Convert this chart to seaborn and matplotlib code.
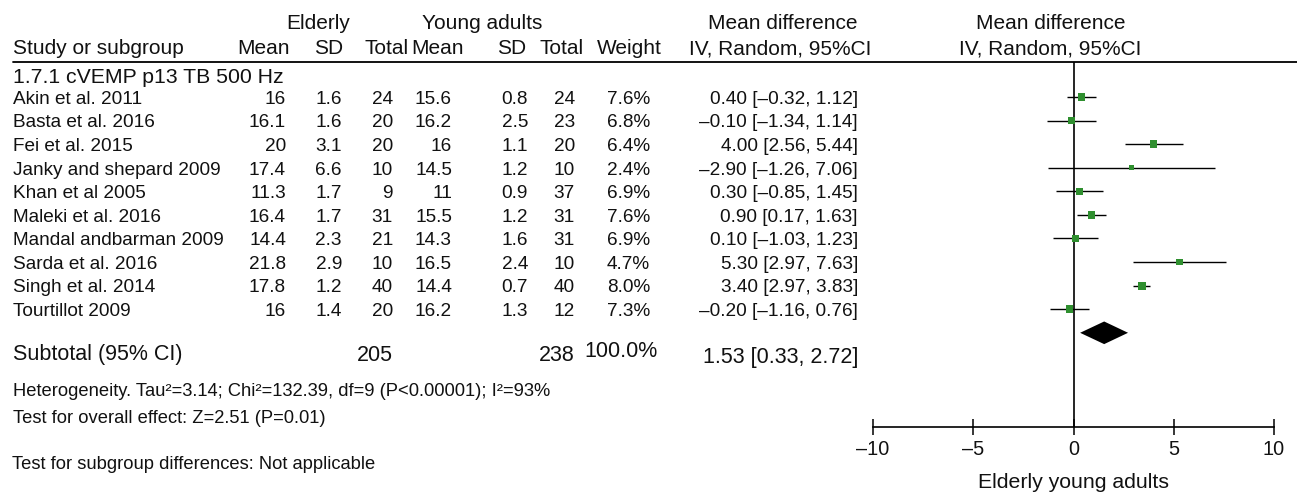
import numpy as np
import pandas as pd
import matplotlib
matplotlib.use("Agg")
import matplotlib.pyplot as plt
import matplotlib.transforms as mtransforms
from matplotlib.lines import Line2D
import seaborn as sns

# ---------------- data ----------------
studies = ["Akin et al. 2011", "Basta et al. 2016", "Fei et al. 2015",
           "Janky and shepard 2009", "Khan et al 2005", "Maleki et al. 2016",
           "Mandal andbarman 2009", "Sarda et al. 2016", "Singh et al. 2014",
           "Tourtillot 2009"]
eld_mean = [16, 16.1, 20, 17.4, 11.3, 16.4, 14.4, 21.8, 17.8, 16]
eld_sd = [1.6, 1.6, 3.1, 6.6, 1.7, 1.7, 2.3, 2.9, 1.2, 1.4]
eld_n = [24, 20, 20, 10, 9, 31, 21, 10, 40, 20]
yng_mean = [15.6, 16.2, 16, 14.5, 11, 15.5, 14.3, 16.5, 14.4, 16.2]
yng_sd = [0.8, 2.5, 1.1, 1.2, 0.9, 1.2, 1.6, 2.4, 0.7, 1.3]
yng_n = [24, 23, 20, 10, 37, 31, 31, 10, 40, 12]
weight = [7.6, 6.8, 6.4, 2.4, 6.9, 7.6, 6.9, 4.7, 8.0, 7.3]
md = [0.40, -0.10, 4.00, 2.90, 0.30, 0.90, 0.10, 5.30, 3.40, -0.20]
ci_lo = [-0.32, -1.34, 2.56, -1.26, -0.85, 0.17, -1.03, 2.97, 2.97, -1.16]
ci_hi = [1.12, 1.14, 5.44, 7.06, 1.45, 1.63, 1.23, 7.63, 3.83, 0.76]
md_labels = ["0.40 [\u20130.32, 1.12]", "\u20130.10 [\u20131.34, 1.14]",
             "4.00 [2.56, 5.44]", "\u20132.90 [\u20131.26, 7.06]",
             "0.30 [\u20130.85, 1.45]", "0.90 [0.17, 1.63]",
             "0.10 [\u20131.03, 1.23]", "5.30 [2.97, 7.63]",
             "3.40 [2.97, 3.83]", "\u20130.20 [\u20131.16, 0.76]"]
subgroup_label = "1.7.1 cVEMP p13 TB 500 Hz"
sub_eld_n = 205
sub_yng_n = 238
sub_weight = "100.0%"
sub_md, sub_lo, sub_hi = 1.53, 0.33, 2.72
sub_label = "1.53 [0.33, 2.72]"
x_ticks = [-10, -5, 0, 5, 10]
x_ticklabels = ["\u201310", "\u20135", "0", "5", "10"]
x_label = "Elderly young adults"
heterogeneity = "Heterogeneity. Tau\u00b2=3.14; Chi\u00b2=132.39, df=9 (P<0.00001); I\u00b2=93%"
overall = "Test for overall effect: Z=2.51 (P=0.01)"
subgroup_diff = "Test for subgroup differences: Not applicable"

# ---------------- style ----------------
sns.set_theme(style="white")
plt.rcParams["font.family"] = ["Liberation Sans", "DejaVu Sans"]
plt.rcParams["text.color"] = "#111111"

W, H = 1297, 496
fig = plt.figure(figsize=(W / 100, H / 100), dpi=100)
fig.patch.set_facecolor("white")

AX_L, AX_R = 873, 1274
Y_TOP, Y_AXIS = 62, 427.3
ROW0, ROWH = 97, 23.58


def row_of(px):
    return (px - ROW0) / ROWH


ax = fig.add_axes([AX_L / W, (H - Y_AXIS) / H, (AX_R - AX_L) / W, (Y_AXIS - Y_TOP) / H])

rows = np.arange(len(studies))
df = pd.DataFrame({"study": studies, "md": md, "lo": ci_lo, "hi": ci_hi,
                   "weight": weight, "row": rows})

ax.hlines(df["row"], df["lo"], df["hi"], color="black", lw=1.0, zorder=2)
sns.scatterplot(data=df, x="md", y="row", size="weight", sizes=(15, 33),
                marker="s", color="#2f8f2f", linewidth=0, legend=False,
                ax=ax, zorder=3)
sub_row = len(studies)
dh = 0.48
ax.fill([sub_lo, sub_md, sub_hi, sub_md], [sub_row, sub_row - dh, sub_row, sub_row + dh],
        color="black", lw=0, zorder=3)
ax.axvline(0, color="black", lw=1.2, zorder=1)

ax.set_xlim(-10, 10)
ax.set_ylim(row_of(Y_AXIS), row_of(Y_TOP))
ax.set_xticks(x_ticks)
ax.set_xticklabels(x_ticklabels)
ax.set_yticks([])
ax.set_xlabel(x_label, fontsize=15.3, labelpad=10, color="#111111")
ax.set_ylabel("")
for s in ["left", "right", "top"]:
    ax.spines[s].set_visible(False)
ax.spines["bottom"].set_color("black")
ax.spines["bottom"].set_linewidth(1.2)
ax.tick_params(axis="x", direction="inout", length=11, width=1.1, colors="black",
               labelsize=14.3, pad=4, bottom=True)
for t in ax.get_xticklabels():
    t.set_color("#111111")
ax.patch.set_alpha(0)

tr = mtransforms.blended_transform_factory(fig.transFigure, ax.transData)


def put(x, row, s, size, ha="left"):
    base = row + 0.358 * size * 100 / 72 / ROWH
    ax.text(x / W, base, s, transform=tr, ha=ha, va="baseline", fontsize=size,
            clip_on=False)


HS = 15
# header line
fig.add_artist(Line2D([13 / W, 1.0], [row_of(Y_TOP)] * 2, transform=tr, color="black", lw=1.3))

r1, r2 = row_of(22), row_of(47)
put(318, r1, "Elderly", HS, "center")
put(482, r1, "Young adults", HS, "center")
put(783, r1, "Mean difference", HS, "center")
put(1051, r1, "Mean difference", HS, "center")
put(13, r2, "Study or subgroup", HS)
put(290, r2, "Mean", HS, "right")
put(343, r2, "SD", HS, "right")
put(409, r2, "Total", HS, "right")
put(464, r2, "Mean", HS, "right")
put(526, r2, "SD", HS, "right")
put(584, r2, "Total", HS, "right")
put(662, r2, "Weight", HS, "right")
put(780, r2, "IV, Random, 95%CI", HS, "center")
put(1050, r2, "IV, Random, 95%CI", HS, "center")

put(13, row_of(75), subgroup_label, 15.3)

RS = 13.7
for i in range(len(studies)):
    put(13, i, studies[i], RS)
    put(286, i, f"{eld_mean[i]:g}", RS, "right")
    put(342, i, f"{eld_sd[i]:g}", RS, "right")
    put(393, i, f"{eld_n[i]}", RS, "right")
    put(452, i, f"{yng_mean[i]:g}", RS, "right")
    put(528, i, f"{yng_sd[i]:g}", RS, "right")
    put(575, i, f"{yng_n[i]}", RS, "right")
    put(650, i, f"{weight[i]:.1f}%", RS, "right")
    put(858, i, md_labels[i], RS, "right")

SS = 15.5
put(13, row_of(352), "Subtotal (95% CI)", SS)
put(393, row_of(353), f"{sub_eld_n}", SS, "right")
put(575, row_of(353), f"{sub_yng_n}", SS, "right")
put(658, row_of(349), sub_weight, SS, "right")
put(858, row_of(355), sub_label, SS, "right")

TS = 13.2
put(13, row_of(389), heterogeneity, TS)
put(13, row_of(416.5), overall, TS)
put(12, row_of(462), subgroup_diff, TS)

fig.savefig("out.png", dpi=100, facecolor="white")
